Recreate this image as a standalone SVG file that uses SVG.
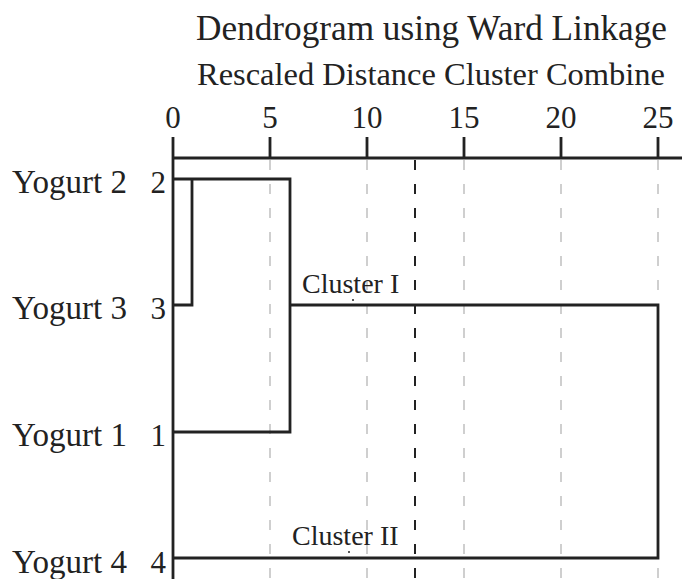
<svg xmlns="http://www.w3.org/2000/svg" width="682" height="579" viewBox="0 0 682 579">
<style>
text{font-family:"Liberation Serif","Times New Roman",serif;fill:#222}
.t{font-size:35px}
.s{font-size:32.4px}
.n{font-size:31px;text-anchor:middle}
.lab{font-size:33px;text-anchor:end}
.num{font-size:31px;text-anchor:end}
.cl{font-size:28px}
.ln{stroke:#222;stroke-width:2.8;fill:none}
.grid{stroke:#cfcfcf;stroke-width:2;stroke-dasharray:10 14}
.cut{stroke:#222;stroke-width:2;stroke-dasharray:10 14}
</style>
<rect width="682" height="579" fill="#fff"/>
<g id="title">
<text class="t" x="196" y="40" textLength="471" lengthAdjust="spacingAndGlyphs">Dendrogram using Ward Linkage</text>
<text class="s" x="197" y="85" textLength="468" lengthAdjust="spacingAndGlyphs">Rescaled Distance Cluster Combine</text>
</g>
<g id="axis">
<text class="n" x="173" y="128">0</text>
<text class="n" x="270" y="128">5</text>
<text class="n" x="367" y="128">10</text>
<text class="n" x="464" y="128">15</text>
<text class="n" x="561" y="128">20</text>
<text class="n" x="658" y="128">25</text>
<path class="ln" d="M173 137V158M270 137V158M367 137V158M464 137V158M561 137V158M658 137V158M173 158H682"/>
</g>
<g id="grid">
<path class="grid" d="M270 160V579M367 160V579M464 160V579M561 160V579M658 160V579"/>
<path class="cut" d="M415 160V579"/>
</g>
<g id="leaf-yogurt2"><text class="lab" x="127" y="193" textLength="115" lengthAdjust="spacingAndGlyphs">Yogurt 2</text><text class="num" x="166" y="193">2</text></g>
<g id="leaf-yogurt3"><text class="lab" x="127" y="319" textLength="115" lengthAdjust="spacingAndGlyphs">Yogurt 3</text><text class="num" x="166" y="319">3</text></g>
<g id="leaf-yogurt1"><text class="lab" x="127" y="446" textLength="115" lengthAdjust="spacingAndGlyphs">Yogurt 1</text><text class="num" x="166" y="446">1</text></g>
<g id="leaf-yogurt4"><text class="lab" x="127" y="573" textLength="115" lengthAdjust="spacingAndGlyphs">Yogurt 4</text><text class="num" x="166" y="573">4</text></g>
<g id="connectors">
<path class="ln" d="M173 158V579"/>
<path class="ln" d="M173 179H290V432H173"/>
<path class="ln" d="M173 305H192V179"/>
<path class="ln" d="M290 305H658V558H173"/>
</g>
<g id="cluster-1"><text class="cl" x="302" y="293">Cluster I</text><circle cx="353" cy="300" r="1" fill="#222"/></g>
<g id="cluster-2"><text class="cl" x="292" y="545">Cluster II</text><circle cx="349" cy="552" r="1" fill="#222"/></g>
</svg>
